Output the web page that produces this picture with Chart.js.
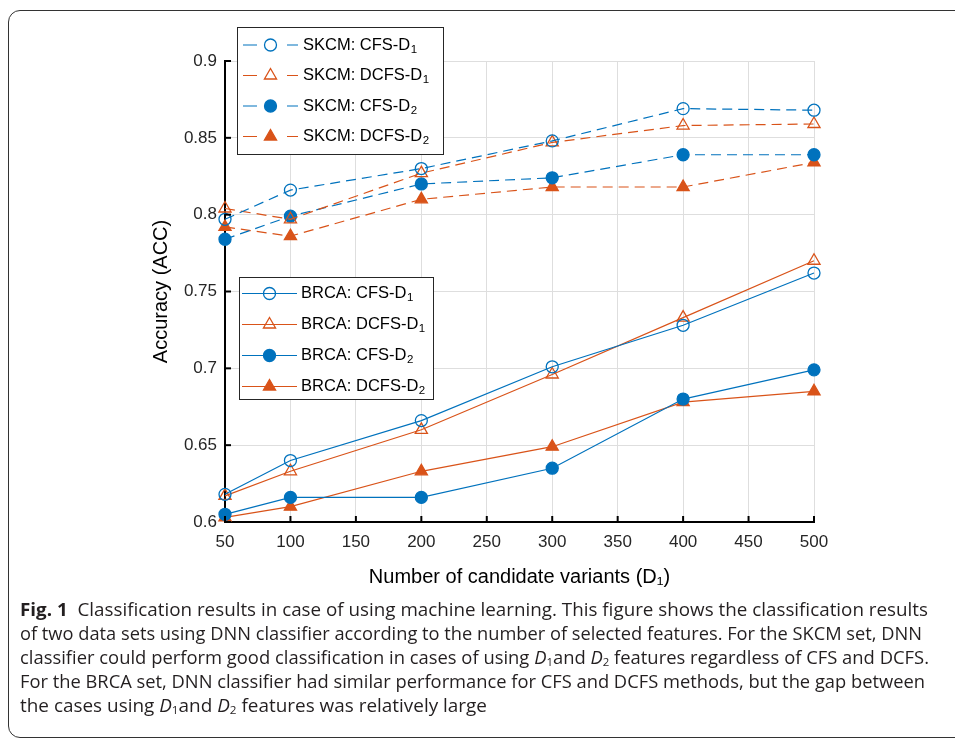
<!DOCTYPE html>
<html>
<head>
<meta charset="utf-8">
<script src="https://cdn.jsdelivr.net/npm/chart.js@4.4.1/dist/chart.umd.min.js"></script>
<style>
  body { margin: 0; width: 955px; height: 738px; overflow: hidden; background: #fff; position: relative; }
  .frame { position: absolute; left: 8px; top: 10px; width: 1100px; height: 726px; border: 1.3px solid #333; border-radius: 12px; }
  .chart-box { position: absolute; left: 0; top: 0; width: 955px; height: 600px; }
  .caption { position: absolute; left: 20px; top: 597px; font-family: "Open Sans", "Noto Sans", sans-serif; font-size: 18.5px; line-height: 24px; color: #231f20; }
  .caption div { white-space: nowrap; transform-origin: 0 50%; width: max-content; }
  .caption sub { font-size: 0.62em; vertical-align: -0.2em; line-height: 0; }
</style>
</head>
<body>
<div class="frame"></div>
<div class="chart-box"><canvas id="acc-chart" width="955" height="600"></canvas></div>
<div class="caption" id="caption">
  <div data-w="908"><b>Fig. 1</b>&nbsp; Classification results in case of using machine learning. This figure shows the classification results</div>
  <div data-w="902">of two data sets using DNN classifier according to the number of selected features. For the SKCM set, DNN</div>
  <div data-w="909">classifier could perform good classification in cases of using <i>D</i><sub>1</sub>and <i>D</i><sub>2</sub> features regardless of CFS and DCFS.</div>
  <div data-w="905">For the BRCA set, DNN classifier had similar performance for CFS and DCFS methods, but the gap between</div>
  <div data-w="467">the cases using <i>D</i><sub>1</sub>and <i>D</i><sub>2</sub> features was relatively large</div>
</div>
<script>
// Number of candidate variants (x values)
const variants = [50, 100, 200, 300, 400, 500];

// SKCM (dashed lines)
const skcmCfsD1 = [0.797, 0.816, 0.830, 0.848, 0.869, 0.868];
const skcmDcfsD1 = [0.804, 0.797, 0.827, 0.847, 0.858, 0.859];
const skcmCfsD2 = [0.784, 0.799, 0.820, 0.824, 0.839, 0.839];
const skcmDcfsD2 = [0.792, 0.786, 0.810, 0.818, 0.818, 0.834];

// BRCA (solid lines)
const brcaCfsD1 = [0.618, 0.640, 0.666, 0.701, 0.728, 0.762];
const brcaDcfsD1 = [0.617, 0.633, 0.660, 0.696, 0.733, 0.770];
const brcaCfsD2 = [0.605, 0.616, 0.616, 0.635, 0.680, 0.699];
const brcaDcfsD2 = [0.603, 0.610, 0.633, 0.649, 0.678, 0.685];

const xTicks = [50, 100, 150, 200, 250, 300, 350, 400, 450, 500];
const yTicks = [0.6, 0.65, 0.7, 0.75, 0.8, 0.85, 0.9];

const BLUE = '#0072BD';
const ORANGE = '#D95319';
const FONT = '"Liberation Sans", Arial, Helvetica, sans-serif';

function series(label, values, color, dashed, marker, filled) {
    return {
        label: label,
        data: variants.map((x, i) => ({ x: x, y: values[i] })),
        borderColor: color,
        borderWidth: 1.2,
        borderDash: dashed ? [10, 6] : [],
        pointStyle: marker,
        pointRadius: marker === 'triangle' ? 7 : 6,
        pointBorderColor: color,
        pointBackgroundColor: filled ? color : 'rgba(0,0,0,0)',
        pointBorderWidth: 1.3,
        tension: 0,
        fill: false,
        clip: false
    };
}

const datasets = [
    series('SKCM: CFS-D_1', skcmCfsD1, BLUE, true, 'circle', false),
    series('SKCM: DCFS-D_1', skcmDcfsD1, ORANGE, true, 'triangle', false),
    series('SKCM: CFS-D_2', skcmCfsD2, BLUE, true, 'circle', true),
    series('SKCM: DCFS-D_2', skcmDcfsD2, ORANGE, true, 'triangle', true),
    series('BRCA: CFS-D_1', brcaCfsD1, BLUE, false, 'circle', false),
    series('BRCA: DCFS-D_1', brcaDcfsD1, ORANGE, false, 'triangle', false),
    series('BRCA: CFS-D_2', brcaCfsD2, BLUE, false, 'circle', true),
    series('BRCA: DCFS-D_2', brcaDcfsD2, ORANGE, false, 'triangle', true)
];

function drawMarker(ctx, ds, x, y) {
    const r = ds.pointRadius;
    ctx.save();
    ctx.setLineDash([]);
    ctx.lineWidth = ds.pointBorderWidth;
    ctx.strokeStyle = ds.pointBorderColor;
    ctx.fillStyle = ds.pointBackgroundColor;
    ctx.beginPath();
    if (ds.pointStyle === 'triangle') {
        ctx.moveTo(x, y - r);
        ctx.lineTo(x + 0.866 * r, y + r / 2);
        ctx.lineTo(x - 0.866 * r, y + r / 2);
        ctx.closePath();
    } else {
        ctx.arc(x, y, r, 0, Math.PI * 2);
    }
    ctx.fill();
    ctx.stroke();
    ctx.restore();
}

// MATLAB-style ticks pointing into the plot
const innerTicks = {
    id: 'innerTicks',
    afterDatasetsDraw(chart) {
        const { ctx, chartArea, scales } = chart;
        ctx.save();
        ctx.strokeStyle = '#000';
        ctx.lineWidth = 2;
        xTicks.forEach(v => {
            const px = scales.x.getPixelForValue(v);
            ctx.beginPath();
            ctx.moveTo(px, chartArea.bottom);
            ctx.lineTo(px, chartArea.bottom - 6);
            ctx.stroke();
        });
        yTicks.forEach(v => {
            const py = scales.y.getPixelForValue(v);
            ctx.beginPath();
            ctx.moveTo(chartArea.left, py);
            ctx.lineTo(chartArea.left + 6, py);
            ctx.stroke();
        });
        ctx.restore();
    }
};

// Two separate legend boxes (SKCM and BRCA)
const boxLegends = {
    id: 'boxLegends',
    afterDraw(chart, args, opts) {
        const ctx = chart.ctx;
        opts.boxes.forEach(box => {
            ctx.save();
            ctx.fillStyle = '#fff';
            ctx.fillRect(box.x, box.y, box.w, box.h);
            ctx.strokeStyle = '#262626';
            ctx.lineWidth = 1;
            ctx.strokeRect(box.x + 0.5, box.y + 0.5, box.w, box.h);
            box.items.forEach((idx, k) => {
                const ds = chart.data.datasets[idx];
                const y = box.firstY + k * box.step;
                const mid = (box.lineX0 + box.lineX1) / 2;
                ctx.strokeStyle = ds.borderColor;
                ctx.lineWidth = ds.borderWidth;
                ctx.beginPath();
                if (ds.borderDash.length) {
                    ctx.moveTo(box.lineX0, y);
                    ctx.lineTo(box.lineX0 + 14, y);
                    ctx.moveTo(box.lineX1 - 11, y);
                    ctx.lineTo(box.lineX1, y);
                } else {
                    ctx.moveTo(box.lineX0, y);
                    ctx.lineTo(box.lineX1, y);
                }
                ctx.stroke();
                drawMarker(ctx, ds, mid, y);
                const parts = ds.label.split('_');
                ctx.fillStyle = '#000';
                ctx.textBaseline = 'middle';
                ctx.font = '16.5px ' + FONT;
                ctx.fillText(parts[0], box.textX, y);
                const w = ctx.measureText(parts[0]).width;
                ctx.font = '11.5px ' + FONT;
                ctx.fillText(parts[1], box.textX + w + 0.5, y + 4.5);
            });
            ctx.restore();
        });
    }
};

new Chart(document.getElementById('acc-chart'), {
    type: 'line',
    data: { datasets: datasets },
    options: {
        responsive: false,
        animation: false,
        events: [],
        layout: { padding: { top: 61, right: 141, left: 0, bottom: 0 } },
        scales: {
            x: {
                type: 'linear',
                min: 50,
                max: 500,
                afterFit: s => { s.height = 78; },
                afterBuildTicks: s => { s.ticks = xTicks.map(v => ({ value: v })); },
                ticks: { color: '#262626', font: { family: FONT, size: 17 }, padding: 10, maxRotation: 0 },
                grid: { color: '#dedede', lineWidth: 1, drawTicks: false },
                border: { display: true, color: '#000', width: 2 },
                title: {
                    display: true,
                    text: 'Number of candidate variants (D\u2081)',
                    color: '#000',
                    font: { family: FONT, size: 20 },
                    padding: { top: 0, bottom: 11 }
                }
            },
            y: {
                min: 0.6,
                max: 0.9,
                afterFit: s => { s.width = 225; },
                afterBuildTicks: s => { s.ticks = yTicks.map(v => ({ value: v })); },
                ticks: {
                    color: '#262626',
                    font: { family: FONT, size: 17 },
                    padding: 8,
                    callback: v => String(Number(v.toFixed(2)))
                },
                grid: { color: '#dedede', lineWidth: 1, drawTicks: false },
                border: { display: true, color: '#000', width: 2 },
                title: {
                    display: true,
                    text: 'Accuracy (ACC)',
                    color: '#000',
                    font: { family: FONT, size: 20 },
                    padding: { top: 149, bottom: 0 }
                }
            }
        },
        plugins: {
            legend: { display: false },
            tooltip: { enabled: false },
            boxLegends: {
                boxes: [
                    { x: 237, y: 27, w: 206, h: 127, firstY: 45, step: 30.5, lineX0: 243, lineX1: 298, textX: 303, items: [0, 1, 2, 3] },
                    { x: 239, y: 277, w: 194, h: 122, firstY: 293.5, step: 31, lineX0: 242, lineX1: 297, textX: 301, items: [4, 5, 6, 7] }
                ]
            }
        }
    },
    plugins: [innerTicks, boxLegends]
});

// fit each caption line to the width it has in the figure
document.querySelectorAll('#caption div').forEach(line => {
    const target = Number(line.dataset.w);
    const w = line.getBoundingClientRect().width;
    line.style.transform = 'scaleX(' + (target / w) + ')';
});
</script>
</body>
</html>
